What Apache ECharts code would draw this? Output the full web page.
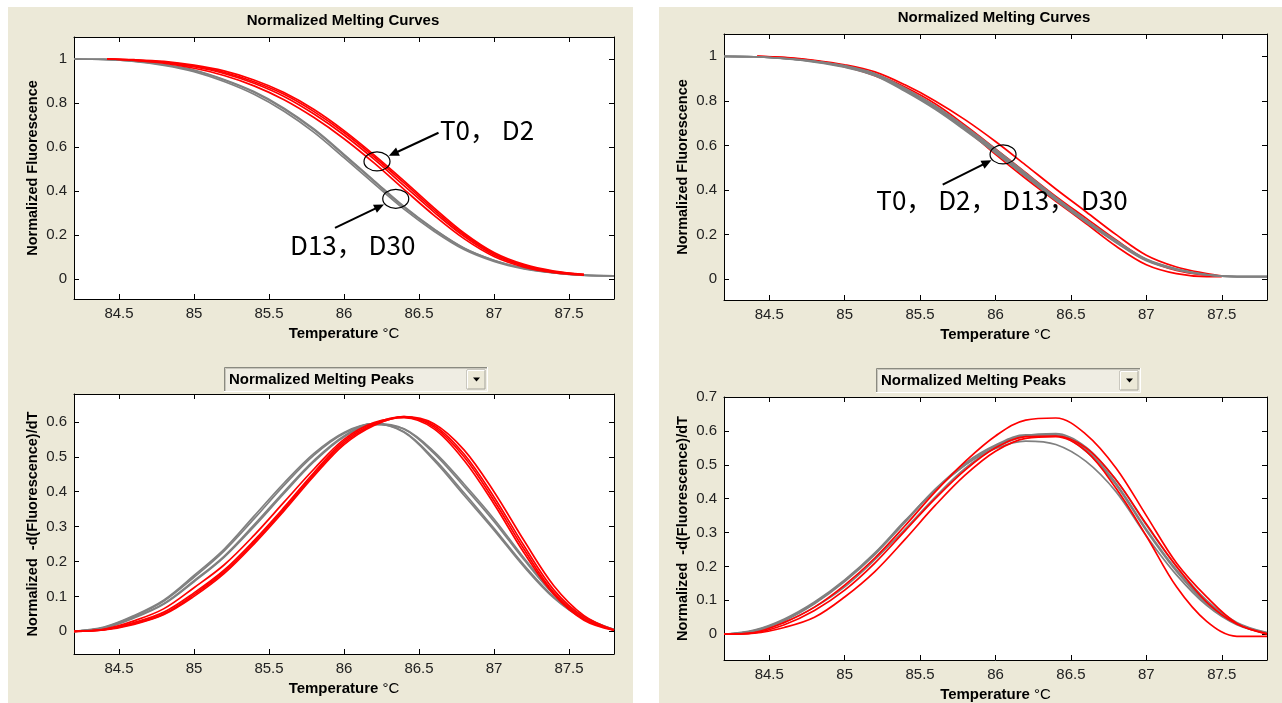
<!DOCTYPE html>
<html><head><meta charset="utf-8">
<script src="https://cdn.jsdelivr.net/npm/echarts@6/dist/echarts.min.js"></script>
<style>html,body{margin:0;padding:0;background:#fff}#c{width:1282px;height:703px}</style>
</head><body><div id="c"></div><script>
// ---------- DATA ----------
const TEMPS = [84.2,84.4,84.6,84.8,85.0,85.2,85.4,85.6,85.8,86.0,86.2,86.4,86.6,86.8,87.0,87.2,87.4,87.6,87.8];
const TEMPS_RED_LEFT_CURVES = [84.42,84.6,84.8,85.0,85.2,85.4,85.6,85.8,86.0,86.2,86.4,86.6,86.8,87.0,87.2,87.4,87.6];
const TEMPS_RED_RIGHT_CURVES = [84.42,84.6,84.8,85.0,85.2,85.4,85.6,85.8,86.0,86.2,86.4,86.6,86.8,87.0,87.2,87.4,87.5];
const X_TICKS = [84.5,85,85.5,86,86.5,87,87.5];
const Y_TICKS_CURVES = [0,0.2,0.4,0.6,0.8,1];
const Y_TICKS_PEAKS_LEFT = [0,0.1,0.2,0.3,0.4,0.5,0.6];
const Y_TICKS_PEAKS_RIGHT = [0,0.1,0.2,0.3,0.4,0.5,0.6,0.7];

// Left panel, normalized melting curves
const LC_RED_1 = [1.0,0.995,0.985,0.965,0.935,0.89,0.83,0.75,0.655,0.545,0.425,0.305,0.195,0.11,0.06,0.033,0.02];
const LC_RED_2 = [1.0,0.997,0.989,0.972,0.946,0.905,0.848,0.771,0.675,0.565,0.447,0.324,0.21,0.121,0.067,0.037,0.022];
const LC_RED_3 = [1.0,0.994,0.981,0.958,0.925,0.878,0.815,0.734,0.638,0.528,0.408,0.29,0.184,0.103,0.055,0.03,0.019];
const LC_RED_4 = [1.0,0.995,0.986,0.968,0.94,0.897,0.84,0.761,0.666,0.556,0.437,0.315,0.203,0.116,0.063,0.035,0.021];
const LC_GRAY_1 = [1.0,0.998,0.991,0.975,0.95,0.907,0.852,0.777,0.682,0.567,0.448,0.33,0.228,0.142,0.086,0.05,0.03,0.018,0.015];
const LC_GRAY_2 = [1.0,0.998,0.989,0.971,0.943,0.898,0.84,0.763,0.667,0.552,0.434,0.318,0.218,0.135,0.081,0.047,0.028,0.017,0.015];
const LC_GRAY_3 = [1.0,0.998,0.99,0.974,0.948,0.905,0.849,0.773,0.678,0.563,0.444,0.327,0.226,0.14,0.085,0.049,0.029,0.018,0.015];

// Left panel, normalized melting peaks
const LP_RED_1 = [0,0.005,0.025,0.055,0.11,0.175,0.26,0.355,0.455,0.545,0.595,0.615,0.585,0.5,0.375,0.235,0.11,0.035,0.003];
const LP_RED_2 = [0,0.004,0.02,0.048,0.1,0.165,0.25,0.345,0.445,0.535,0.59,0.615,0.595,0.52,0.4,0.26,0.13,0.045,0.004];
const LP_RED_3 = [0,0.006,0.03,0.065,0.125,0.19,0.275,0.37,0.465,0.55,0.598,0.612,0.58,0.49,0.365,0.225,0.105,0.032,0.003];
const LP_RED_4 = [0,0.005,0.022,0.05,0.105,0.17,0.255,0.35,0.45,0.54,0.592,0.614,0.59,0.508,0.385,0.245,0.118,0.04,0.003];
const LP_GRAY_1 = [0,0.012,0.045,0.09,0.16,0.235,0.33,0.425,0.51,0.57,0.595,0.57,0.49,0.39,0.29,0.185,0.095,0.035,0.005];
const LP_GRAY_2 = [0,0.011,0.043,0.087,0.155,0.23,0.322,0.418,0.505,0.567,0.595,0.572,0.495,0.397,0.295,0.19,0.098,0.036,0.005];
const LP_GRAY_3 = [0,0.01,0.04,0.08,0.145,0.215,0.305,0.4,0.49,0.56,0.595,0.58,0.51,0.415,0.315,0.205,0.105,0.04,0.005];
const LP_GRAY_4 = [0,0.009,0.038,0.078,0.142,0.212,0.3,0.395,0.486,0.557,0.592,0.58,0.515,0.422,0.322,0.21,0.108,0.042,0.005];

// Right panel, normalized melting curves
const RC_RED_1 = [1.0,0.995,0.982,0.962,0.93,0.872,0.8,0.715,0.618,0.512,0.405,0.303,0.2,0.108,0.055,0.025,0.015];
const RC_RED_2 = [1.0,0.993,0.978,0.953,0.913,0.853,0.776,0.675,0.56,0.452,0.35,0.25,0.148,0.065,0.025,0.012,0.012];
const RC_RED_3 = [1.0,0.994,0.98,0.957,0.92,0.862,0.787,0.69,0.585,0.478,0.372,0.274,0.176,0.088,0.04,0.018,0.014];
const RC_GRAY_1 = [1.0,0.998,0.99,0.977,0.956,0.92,0.852,0.772,0.678,0.577,0.47,0.362,0.262,0.17,0.088,0.045,0.02,0.012,0.012];
const RC_GRAY_2 = [1.0,0.998,0.989,0.974,0.951,0.913,0.843,0.762,0.667,0.566,0.46,0.354,0.255,0.164,0.083,0.042,0.019,0.012,0.012];
const RC_GRAY_3 = [1.0,0.998,0.99,0.976,0.954,0.917,0.848,0.767,0.672,0.571,0.465,0.358,0.258,0.167,0.086,0.044,0.02,0.012,0.012];
const RC_GRAY_4 = [1.0,0.998,0.991,0.978,0.958,0.923,0.857,0.778,0.684,0.583,0.476,0.367,0.266,0.173,0.091,0.047,0.021,0.012,0.012];

// Right panel, normalized melting peaks
const RP_RED_1 = [0,0.005,0.035,0.08,0.145,0.225,0.32,0.42,0.51,0.585,0.632,0.638,0.59,0.49,0.35,0.21,0.11,0.032,0.0];
const RP_RED_2 = [0,0.003,0.02,0.05,0.11,0.185,0.28,0.38,0.47,0.54,0.578,0.583,0.54,0.43,0.29,0.14,0.038,-0.006,-0.006];
const RP_RED_3 = [0,0.004,0.028,0.07,0.13,0.21,0.305,0.4,0.485,0.55,0.583,0.585,0.55,0.455,0.325,0.2,0.095,0.03,0.002];
const RP_GRAY_1 = [0,0.01,0.04,0.09,0.155,0.235,0.33,0.425,0.5,0.555,0.585,0.585,0.54,0.44,0.305,0.185,0.09,0.03,0.003];
const RP_GRAY_2 = [0,0.012,0.045,0.095,0.16,0.24,0.335,0.425,0.5,0.548,0.57,0.56,0.51,0.42,0.29,0.175,0.085,0.028,0.003];
const RP_GRAY_3 = [0,0.008,0.035,0.08,0.14,0.22,0.31,0.405,0.49,0.55,0.585,0.592,0.552,0.455,0.322,0.2,0.1,0.035,0.005];
const RP_GRAY_4 = [0,0.011,0.042,0.092,0.158,0.238,0.333,0.428,0.505,0.558,0.588,0.588,0.545,0.445,0.31,0.19,0.093,0.032,0.004];

const TITLE_CURVES = 'Normalized Melting Curves';
const TITLE_PEAKS = 'Normalized Melting Peaks';
const Y_NAME_CURVES = 'Normalized Fluorescence';
const Y_NAME_PEAKS = 'Normalized  -d(Fluorescence)/dT';
const LABEL_LEFT_RED = 'T0\uFF0C D2';
const LABEL_LEFT_GRAY = 'D13\uFF0C D30';
const LABEL_RIGHT_ALL = 'T0\uFF0C D2\uFF0C D13\uFF0C D30';

// ---------- CHART ----------
const RED = '#ff0000', GRAY = '#808080';
const FONT = 'Liberation Sans';
const chart = echarts.init(document.getElementById('c'), null, {renderer: 'canvas'});

const GRIDS = [
  {left: 74, top: 37, width: 540, height: 262},
  {left: 74, top: 394, width: 540, height: 260},
  {left: 724, top: 34, width: 543, height: 266},
  {left: 724, top: 397, width: 543, height: 264}
];
const YR = [[-0.09, 1.1], [-0.065, 0.68], [-0.093, 1.1], [-0.076, 0.7]];
const YT = [Y_TICKS_CURVES, Y_TICKS_PEAKS_LEFT, Y_TICKS_CURVES, Y_TICKS_PEAKS_RIGHT];
const YN = [Y_NAME_CURVES, Y_NAME_PEAKS, Y_NAME_CURVES, Y_NAME_PEAKS];

const xAxes = [], yAxes = [];
GRIDS.forEach((g, i) => {
  const line = {show: true, onZero: false, lineStyle: {color: '#000', width: 1}};
  const tick = (vals) => ({show: true, inside: true, length: 5, customValues: vals, lineStyle: {color: '#000', width: 1}});
  xAxes.push({
    type: 'value', gridIndex: i, min: 84.2, max: 87.8, position: 'bottom',
    axisLine: line, axisTick: tick(X_TICKS), splitLine: {show: false},
    axisLabel: {customValues: X_TICKS, color: '#222', fontSize: 15, fontFamily: FONT, margin: 7},
    name: '{b|Temperature }{n|\u00B0C}', nameLocation: 'middle', nameGap: 27,
    nameTextStyle: {rich: {b: {fontWeight: 'bold', fontSize: 15, fontFamily: FONT, color: '#000'},
                           n: {fontWeight: 'normal', fontSize: 15, fontFamily: FONT, color: '#000'}}}
  });
  xAxes.push({
    type: 'value', gridIndex: i, min: 84.2, max: 87.8, position: 'top',
    axisLine: line, axisTick: tick(X_TICKS), axisLabel: {show: false}, splitLine: {show: false}
  });
  yAxes.push({
    type: 'value', gridIndex: i, min: YR[i][0], max: YR[i][1], position: 'left',
    axisLine: line, axisTick: tick(YT[i]), splitLine: {show: false},
    axisLabel: {customValues: YT[i], color: '#222', fontSize: 15, fontFamily: FONT, margin: 7},
    name: YN[i], nameLocation: 'middle', nameGap: 34, nameRotate: 90,
    nameTextStyle: {fontWeight: 'bold', fontSize: 14.5, fontFamily: FONT, color: '#000'}
  });
  yAxes.push({
    type: 'value', gridIndex: i, min: YR[i][0], max: YR[i][1], position: 'right',
    axisLine: line, axisTick: tick(YT[i]), axisLabel: {show: false}, splitLine: {show: false}
  });
});

function mk(gi, xs, ys, color, z) {
  return {
    type: 'line', xAxisIndex: gi * 2, yAxisIndex: gi * 2, silent: true,
    data: xs.map((x, k) => [x, ys[k]]), showSymbol: false, symbol: 'none',
    smooth: 0.35, lineStyle: {color: color, width: 1.7}, z: z, animation: false
  };
}
const series = [
  mk(0, TEMPS, LC_GRAY_1, GRAY, 2), mk(0, TEMPS, LC_GRAY_2, GRAY, 2), mk(0, TEMPS, LC_GRAY_3, GRAY, 2),
  mk(0, TEMPS_RED_LEFT_CURVES, LC_RED_1, RED, 3), mk(0, TEMPS_RED_LEFT_CURVES, LC_RED_2, RED, 3),
  mk(0, TEMPS_RED_LEFT_CURVES, LC_RED_3, RED, 3), mk(0, TEMPS_RED_LEFT_CURVES, LC_RED_4, RED, 3),
  mk(1, TEMPS, LP_GRAY_1, GRAY, 2), mk(1, TEMPS, LP_GRAY_2, GRAY, 2), mk(1, TEMPS, LP_GRAY_3, GRAY, 2), mk(1, TEMPS, LP_GRAY_4, GRAY, 2),
  mk(1, TEMPS, LP_RED_1, RED, 3), mk(1, TEMPS, LP_RED_2, RED, 3), mk(1, TEMPS, LP_RED_3, RED, 3), mk(1, TEMPS, LP_RED_4, RED, 3),
  mk(2, TEMPS_RED_RIGHT_CURVES, RC_RED_1, RED, 2), mk(2, TEMPS_RED_RIGHT_CURVES, RC_RED_2, RED, 2), mk(2, TEMPS_RED_RIGHT_CURVES, RC_RED_3, RED, 2),
  mk(2, TEMPS, RC_GRAY_1, GRAY, 3), mk(2, TEMPS, RC_GRAY_2, GRAY, 3), mk(2, TEMPS, RC_GRAY_3, GRAY, 3), mk(2, TEMPS, RC_GRAY_4, GRAY, 3),
  mk(3, TEMPS, RP_GRAY_1, GRAY, 2), mk(3, TEMPS, RP_GRAY_2, GRAY, 2), mk(3, TEMPS, RP_GRAY_3, GRAY, 2), mk(3, TEMPS, RP_GRAY_4, GRAY, 2),
  mk(3, TEMPS, RP_RED_1, RED, 3), mk(3, TEMPS, RP_RED_2, RED, 3), mk(3, TEMPS, RP_RED_3, RED, 3)
];

function dropdown(id, x, y, w, h, label) {
  return {
    type: 'group', id: id, x: x, y: y, z: 10,
    children: [
      {type: 'rect', shape: {x: 0, y: 0, width: w, height: h}, style: {fill: '#efede3', stroke: null}},
      {type: 'polyline', shape: {points: [[0.5, h], [0.5, 0.5], [w, 0.5]]}, style: {stroke: '#8a8a80', lineWidth: 1, fill: null}},
      {type: 'polyline', shape: {points: [[1.5, h - 1], [1.5, 1.5], [w - 1, 1.5]]}, style: {stroke: '#c8c6bc', lineWidth: 1, fill: null}},
      {type: 'polyline', shape: {points: [[0, h - 0.5], [w - 0.5, h - 0.5], [w - 0.5, 0]]}, style: {stroke: '#ffffff', lineWidth: 1, fill: null}},
      {type: 'rect', shape: {x: w - 21, y: 3, width: 18, height: h - 6}, style: {fill: '#ece9d8', stroke: '#a5a39a', lineWidth: 1}},
      {type: 'polyline', shape: {points: [[w - 20.5, h - 3.5], [w - 20.5, 3.5], [w - 3.5, 3.5]]}, style: {stroke: '#ffffff', lineWidth: 1, fill: null}},
      {type: 'polygon', shape: {points: [[w - 15, h / 2 - 2], [w - 8, h / 2 - 2], [w - 11.5, h / 2 + 2]]}, style: {fill: '#000'}},
      {type: 'text', x: 5, y: h / 2 + 0.5, style: {text: label, font: 'bold 15px "Liberation Sans"', fill: '#000', verticalAlign: 'middle', align: 'left'}}
    ]
  };
}

const baseGraphic = [
  {type: 'rect', id: 'bgL', z: -10, shape: {x: 8, y: 7, width: 625, height: 696}, style: {fill: '#ece9d8'}},
  {type: 'rect', id: 'bgR', z: -10, shape: {x: 659, y: 7, width: 623, height: 696}, style: {fill: '#ece9d8'}},
  {type: 'rect', id: 'pa0', z: -5, shape: {x: 74, y: 37, width: 540, height: 262}, style: {fill: '#fff'}},
  {type: 'rect', id: 'pa1', z: -5, shape: {x: 74, y: 394, width: 540, height: 260}, style: {fill: '#fff'}},
  {type: 'rect', id: 'pa2', z: -5, shape: {x: 724, y: 34, width: 543, height: 266}, style: {fill: '#fff'}},
  {type: 'rect', id: 'pa3', z: -5, shape: {x: 724, y: 397, width: 543, height: 264}, style: {fill: '#fff'}},
  {type: 'text', id: 'tL', x: 343, y: 21, style: {text: TITLE_CURVES, font: 'bold 15px "Liberation Sans"', fill: '#000', align: 'center', verticalAlign: 'middle'}},
  {type: 'text', id: 'tR', x: 994, y: 18, style: {text: TITLE_CURVES, font: 'bold 15px "Liberation Sans"', fill: '#000', align: 'center', verticalAlign: 'middle'}},
  dropdown('ddL', 224, 367, 264, 25, TITLE_PEAKS),
  dropdown('ddR', 876, 368, 265, 25, TITLE_PEAKS)
];

chart.setOption({
  animation: false,
  backgroundColor: '#ffffff',
  grid: GRIDS.map(g => Object.assign({containLabel: false}, g)),
  xAxis: xAxes, yAxis: yAxes, series: series, graphic: baseGraphic
});

// ---------- ANNOTATIONS (in data coordinates) ----------
const ANNOTATIONS = [
  {grid: 0, ellipse: [86.22, 0.535], tail: [86.63, 0.665], text: LABEL_LEFT_RED, textAt: [86.64, 0.678]},
  {grid: 0, ellipse: [86.345, 0.365], tail: [85.94, 0.233], text: LABEL_LEFT_GRAY, textAt: [85.64, 0.156]},
  {grid: 2, ellipse: [86.05, 0.56], tail: [85.65, 0.424], text: LABEL_RIGHT_ALL, textAt: [85.21, 0.356]}
];
const ann = [];
ANNOTATIONS.forEach((a, i) => {
  const c = chart.convertToPixel({gridIndex: a.grid}, a.ellipse);
  const t = chart.convertToPixel({gridIndex: a.grid}, a.tail);
  const p = chart.convertToPixel({gridIndex: a.grid}, a.textAt);
  ann.push({type: 'ellipse', id: 'el' + i, z: 20, shape: {cx: c[0], cy: c[1], rx: 13, ry: 9.5}, style: {fill: null, stroke: '#000', lineWidth: 1.2}});
  let dx = c[0] - t[0], dy = c[1] - t[1];
  const L = Math.hypot(dx, dy); dx /= L; dy /= L;
  const ang = Math.atan2(dy, dx);
  const rim = 13 * 9.5 / Math.hypot(9.5 * Math.cos(ang), 13 * Math.sin(ang));
  const hx = c[0] - dx * (rim + 1), hy = c[1] - dy * (rim + 1);
  const bx = hx - dx * 10, by = hy - dy * 10;
  ann.push({type: 'line', id: 'ln' + i, z: 20, shape: {x1: t[0], y1: t[1], x2: bx + dx * 2, y2: by + dy * 2}, style: {stroke: '#000', lineWidth: 2}});
  ann.push({type: 'polygon', id: 'ah' + i, z: 20, shape: {points: [[hx, hy], [bx - dy * 4.5, by + dx * 4.5], [bx + dy * 4.5, by - dx * 4.5]]}, style: {fill: '#000'}});
  ann.push({type: 'text', id: 'tx' + i, z: 20, x: p[0], y: p[1], style: {text: a.text, font: '26px "Noto Sans CJK SC"', fill: '#000', align: 'left', verticalAlign: 'middle'}});
});
chart.setOption({graphic: ann});
</script></body></html>
